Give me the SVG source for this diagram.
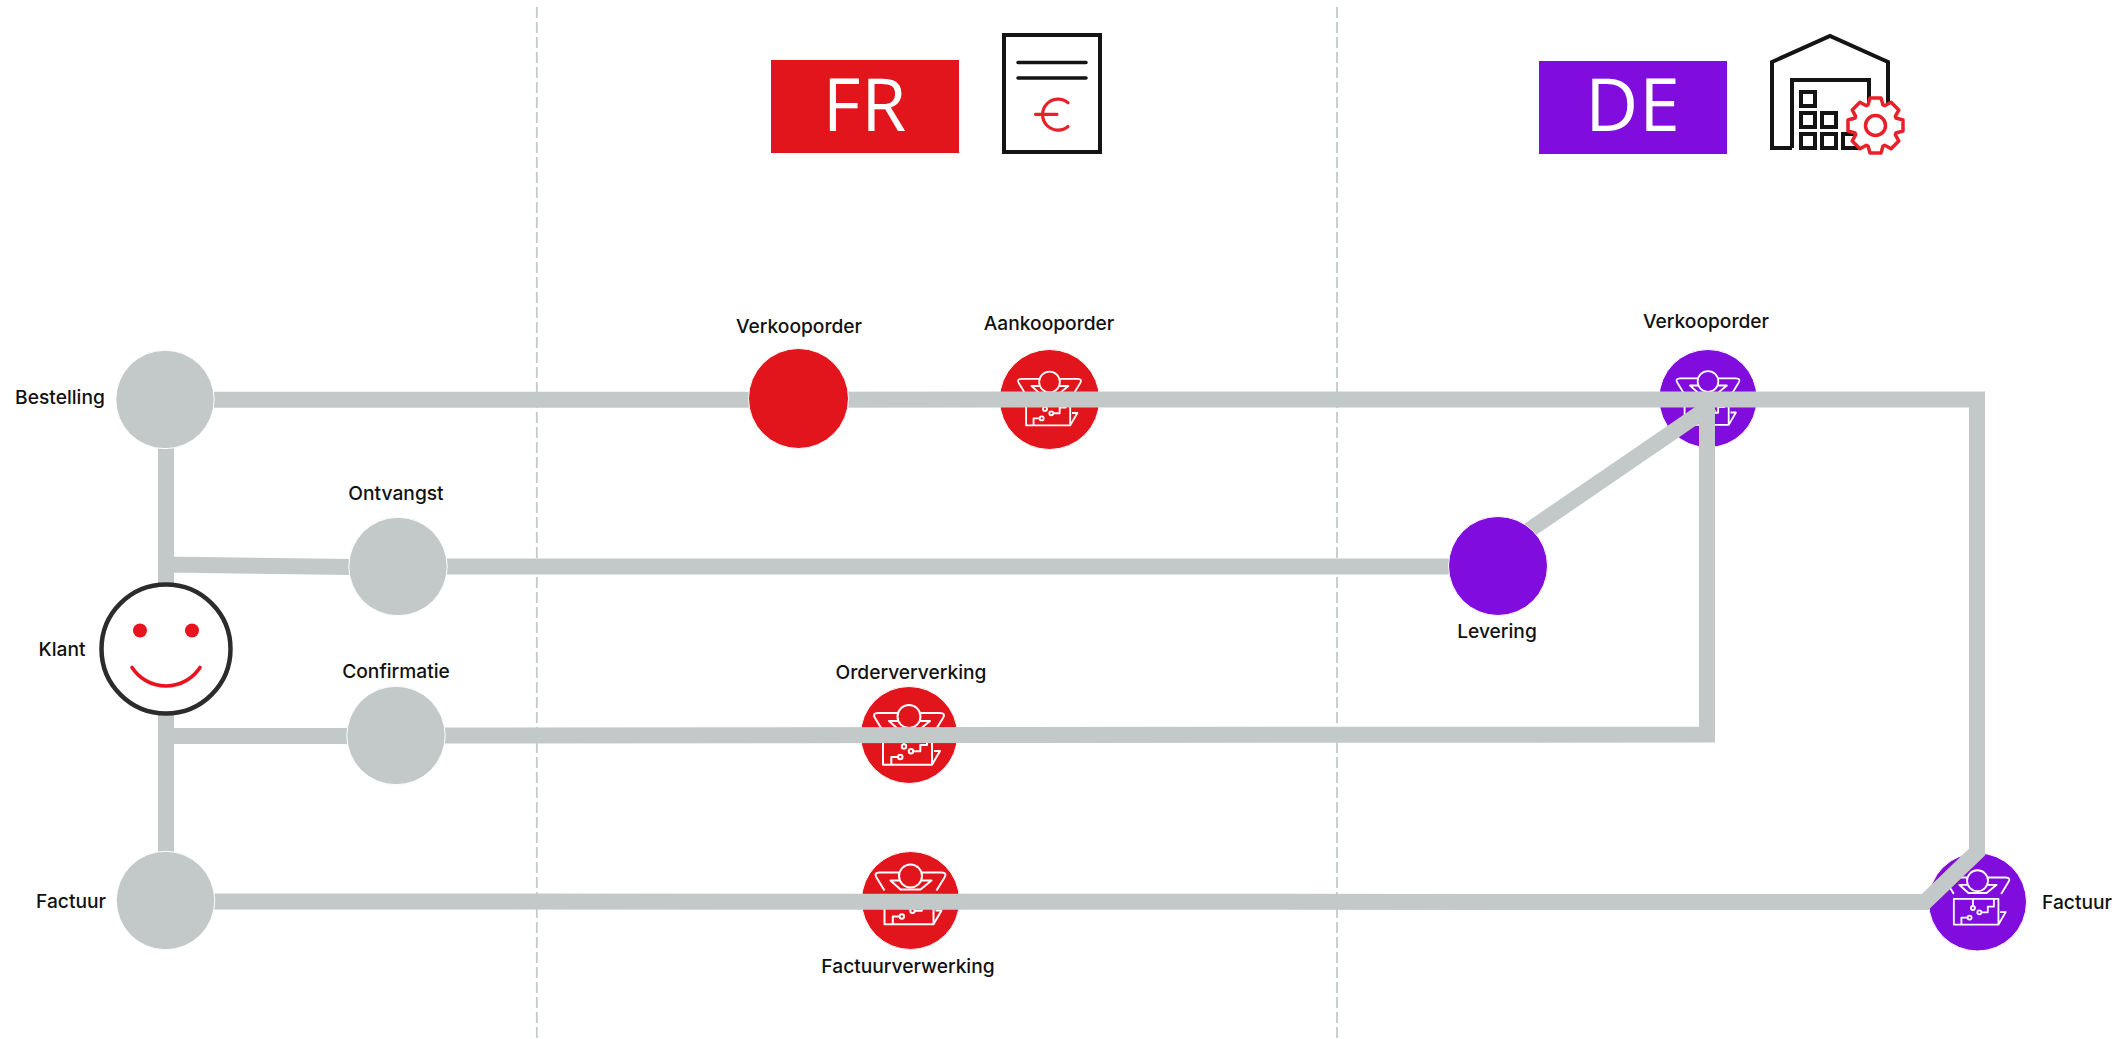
<svg xmlns="http://www.w3.org/2000/svg" xmlns:xlink="http://www.w3.org/1999/xlink" width="2126" height="1039" viewBox="0 0 2126 1039">
<style>
.lbl{font-family:"Inter","Liberation Sans",sans-serif;font-size:19.200px;fill:#111;text-anchor:middle;font-weight:500}
.hd{font-family:"Open Sans","Liberation Sans",sans-serif;font-size:73px;fill:#fff;text-anchor:middle;font-weight:500;letter-spacing:1px}
.c{fill:none;stroke:#c3c9c8;stroke-width:16}
.g{fill:#c3c9c8;stroke:#fff;stroke-width:1}
.r{fill:#e2151d;stroke:#fff;stroke-width:1}
.p{fill:#800cdd;stroke:#fff;stroke-width:1}
.ic{fill:none;stroke:#fff;stroke-width:2;stroke-linejoin:round}
.bk{fill:none;stroke:#141414;stroke-width:4}
.rs{fill:none;stroke:#e7202a;stroke-width:3.500}
.d{stroke:#c4cac9;stroke-width:1.800;stroke-dasharray:11 4}
</style>
<defs>
<g id="bot" class="ic">
<circle cx="0" cy="-24.500" r="11.500"/>
<path d="M11,-28H31Q37,-28 34,-23L26,-10M-11,-28H-31Q-37,-28 -34,-23L-26,-10"/>
<path d="M-11,-20H-20L-10,-11H10L21,-20H11"/>
<path d="M-26,-4.500H23V23.700H-26ZM23,23.700L31,10H25"/>
<path d="M-5,-4.500V3M4,10.300H11.300V4H18V-4.500M-11,16H-17.700V23.700"/>
<circle cx="-5" cy="5.500" r="2.200"/><circle cx="2" cy="10.300" r="2.200"/><circle cx="-8.700" cy="16" r="2.200"/>
</g>
</defs>
<g id="dividers">
<line class="d" x1="536.800" y1="7" x2="536.800" y2="1039"/>
<line class="d" x1="1337" y1="7" x2="1337" y2="1039"/>
</g>
<g id="header-fr">
<rect x="771" y="60" width="188" height="93" fill="#e2151d"/>
<text class="hd" x="865" y="131">FR</text>
<rect x="1004" y="35" width="96" height="117" fill="#fff" stroke="#141414" stroke-width="4"/>
<path d="M1018,62.500H1086M1018,78H1086" stroke="#141414" stroke-width="3.500" fill="none" stroke-linecap="round"/>
<path d="M1068,102.700A15.500,15.500 0 1 0 1068,126.500M1035.500,114.300H1057" fill="none" stroke="#e7202a" stroke-width="3.200" stroke-linecap="round"/>
</g>
<g id="header-de">
<rect x="1539" y="61" width="188" height="93" fill="#800cdd"/>
<text class="hd" x="1633" y="131">DE</text>
<path class="bk" d="M1792,148H1772V62L1830,36L1888,62V108M1792,148V80H1869V103"/>
<path class="bk" d="M1801,92h14v14h-14zM1801,113h14v14h-14zM1822,113h14v14h-14zM1801,134h14v14h-14zM1822,134h14v14h-14zM1843,134h14v14h-14z"/>
<polygon transform="translate(1875.500 125.500)" fill="#fff" stroke="#e7202a" stroke-width="3.500" stroke-linejoin="round" points="-5.500,-27.500 5.500,-27.500 7.500,-20.500 9.190,-19.800 15.560,-23.330 23.330,-15.560 19.800,-9.190 20.500,-7.500 27.500,-5.500 27.500,5.500 20.500,7.500 19.800,9.190 23.330,15.560 15.560,23.330 9.190,19.800 7.500,20.500 5.500,27.500 -5.500,27.500 -7.500,20.500 -9.190,19.800 -15.560,23.330 -23.330,15.560 -19.800,9.190 -20.500,7.500 -27.500,5.500 -27.500,-5.500 -20.500,-7.500 -19.800,-9.190 -23.330,-15.560 -15.560,-23.330 -9.190,-19.800 -7.500,-20.500"/>
<circle class="rs" cx="1875.500" cy="125.500" r="10"/>
</g>
<g id="n-fr-po"><circle class="r" cx="1049.500" cy="399.500" r="50"/><use xlink:href="#bot" href="#bot" transform="translate(1049.500 404) scale(.9)"/></g>
<g id="n-de-so"><circle class="p" cx="1708" cy="398.500" r="49"/><use xlink:href="#bot" href="#bot" transform="translate(1708 403.500) scale(.9)"/></g>
<g id="n-oo"><circle class="r" cx="909" cy="735" r="48.500"/><use xlink:href="#bot" href="#bot" transform="translate(909 741)"/></g>
<g id="n-fv"><circle class="r" cx="910.500" cy="900.500" r="49"/><use xlink:href="#bot" href="#bot" x="910.500" y="900.500"/></g>
<g id="n-de-f"><circle class="p" cx="1977.500" cy="902" r="49"/><use xlink:href="#bot" href="#bot" transform="translate(1977.500 903) scale(.91)"/></g>
<g id="connectors">
<path class="c" d="M166,399.700L1977,399.500V852L1925,902L166,901.500"/>
<path class="c" d="M166,399V900M166,564.500L352,567M166,736H350M396,735.500L1707,734.500V399M1525,533L1712,405M398,566.500H1498"/>
</g>
<g id="n-best"><circle class="g" cx="165" cy="399.500" r="49.200"/></g>
<g id="n-ontv"><circle class="g" cx="398" cy="566.500" r="49.200"/></g>
<g id="n-conf"><circle class="g" cx="396" cy="735.500" r="49.200"/></g>
<g id="n-fact"><circle class="g" cx="165.500" cy="900.500" r="49.200"/></g>
<g id="n-lev"><circle class="p" cx="1498" cy="566" r="49.500"/></g>
<g id="n-fr-so"><circle class="r" cx="798.500" cy="398.500" r="50"/></g>
<g id="n-klant">
<circle cx="166" cy="649" r="64.500" fill="#fff" stroke="#2c2c2c" stroke-width="4.500"/>
<circle cx="140" cy="630.500" r="7" fill="#e7141f"/><circle cx="192" cy="630.500" r="7" fill="#e7141f"/>
<path d="M132,667.500A40.500,40.500 0 0 0 200,667.500" fill="none" stroke="#e7141f" stroke-width="3.600" stroke-linecap="round"/>
</g>
<g id="labels">
<text class="lbl" x="60" y="404">Bestelling</text>
<text class="lbl" x="396" y="500">Ontvangst</text>
<text class="lbl" x="799" y="333">Verkooporder</text>
<text class="lbl" x="1049" y="330">Aankooporder</text>
<text class="lbl" x="1706" y="328">Verkooporder</text>
<text class="lbl" x="62" y="656">Klant</text>
<text class="lbl" x="396" y="678">Confirmatie</text>
<text class="lbl" x="911" y="679">Orderververking</text>
<text class="lbl" x="1497" y="638">Levering</text>
<text class="lbl" x="71" y="908">Factuur</text>
<text class="lbl" x="2077" y="909">Factuur</text>
<text class="lbl" x="908" y="973">Factuurverwerking</text>
</g>
</svg>
